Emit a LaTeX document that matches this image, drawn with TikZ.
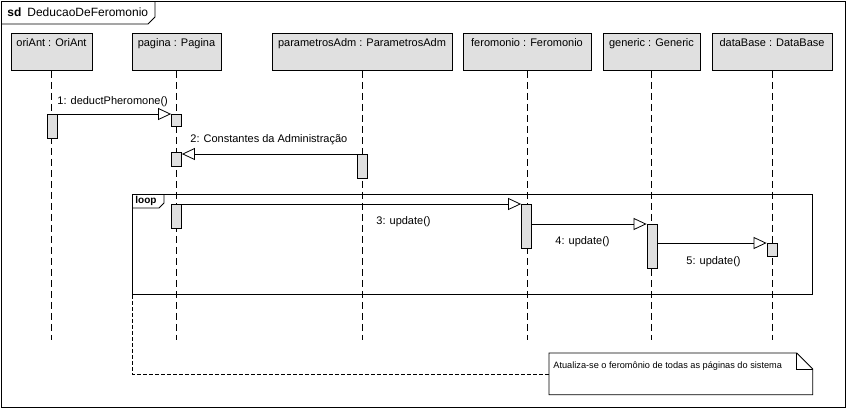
\documentclass[tikz,border=0pt]{standalone}
\usepackage{fontspec}
\setmainfont{Liberation Sans}
\usepackage{tikz}
\usetikzlibrary{arrows.meta}
\usetikzlibrary{positioning}
\usetikzlibrary{calc}
\definecolor{umlgray}{RGB}{224,224,224}
\tikzset{
  umltext/.style = {inner sep=0pt, font=\fontsize{11}{13}\selectfont},
  obj_head/.style = {rectangle, draw=black, fill=umlgray, anchor=north,
    minimum height=37pt, inner sep=0pt},% cabecalho do objeto
  act_box/.style = {rectangle, draw=black, fill=umlgray, anchor=north,
    minimum width=10pt, inner sep=0pt},% ativacao
  life_line/.style = {dash pattern=on 7pt off 4pt},% linha de vida
  msg_arr/.style = {-{Triangle[open,length=13pt,width=12pt]}},% mensagem
  msg_lbl/.style = {umltext, anchor=west},
  note_link/.style = {dash pattern=on 4pt off 2pt}
}

\begin{document}
\begin{tikzpicture}[x=1pt,y=-1pt,line width=0.8pt]
\useasboundingbox (0,0) rectangle (846,408);
\draw (1,1) rectangle (845,407);
% frame sd
\draw (1,24) -- (148,24) -- (155,17) -- (155,1);
\node [umltext, anchor=west, font=\fontsize{12}{14}\selectfont] (title) at (7,12)
  {\textbf{sd}\hspace{6pt}DeducaoDeFeromonio};

% objetos e linhas de vida
\foreach \nm/\x/\w/\txt in {oriAnt/51.5/81/oriAnt : OriAnt,
    pagina/176.5/89/pagina : Pagina,
    paramAdm/362/180/parametrosAdm : ParametrosAdm,
    feromonio/527/128/feromonio : Feromonio,
    generic/651.5/97/generic : Generic,
    dataBase/772/120/dataBase : DataBase} {
  \node [obj_head, minimum width=\w pt,
    label={[umltext, anchor=north, yshift=-5pt]north:\txt}] (\nm) at (\x,33) {};
  \coordinate (\nm-end) at (\x,340);
  \draw [life_line] (\nm.south) -- (\nm-end);
}

% loop
\node [draw, anchor=north west, minimum width=680pt, minimum height=100pt,
  inner sep=0pt] (loop) at (132,194) {};
\draw (132,208) -- (159,208) -- (164,203) -- (164,194);
\node [umltext, anchor=west, font=\fontsize{10}{12}\selectfont\bfseries]
  (loopLbl) at (135,201) {loop};

% ativacoes
\node [act_box, minimum height=24pt] (actO1) at (52,114) {};
\node [act_box, minimum height=12pt] (actP1) at (176.5,114) {};
\node [act_box, minimum height=14pt] (actP2) at (176.5,152) {};
\node [act_box, minimum height=24pt] (actA2) at (362,154) {};
\node [act_box, minimum height=24pt] (actP3) at (176.5,204) {};
\node [act_box, minimum height=44pt] (actF3) at (526.5,204) {};
\node [act_box, minimum height=44pt] (actG4) at (652,224) {};
\node [act_box, minimum height=13pt] (actD5) at (772,243) {};

% mensagens
\draw [msg_arr] (actO1.north east) -- (actP1.north west);
\draw [msg_arr] (actA2.north west) -- (actP2.east |- actA2.north);
\draw [msg_arr] (actP3.north east) -- (actF3.north west);
\draw [msg_arr] (actF3.east |- actG4.north) -- (actG4.north west);
\draw [msg_arr] (actG4.east |- actD5.north) -- (actD5.north west);
\node [msg_lbl] (m1) at (57,102) {1: deductPheromone()};
\node [msg_lbl] (m2) at (190,140) {2: Constantes da Administração};
\node [msg_lbl] (m3) at (376,222) {3: update()};
\node [msg_lbl] (m4) at (555,242) {4: update()};
\node [msg_lbl] (m5) at (686,262) {5: update()};

% nota
\node [anchor=north west, minimum width=263pt, minimum height=41pt, inner sep=0pt,
  label={[inner sep=0pt, anchor=north west, xshift=4pt, yshift=-8pt,
    font=\fontsize{9.2}{11}\selectfont]north west:Atualiza-se o feromônio de todas as páginas do sistema}]
  (note) at (549,353) {};
\draw (note.north west) -- ($(note.north east)+(-16,0)$) -- ($(note.north east)+(0,16)$)
  -- (note.south east) -- (note.south west) -- cycle;
\draw ($(note.north east)+(-16,0)$) |- ($(note.north east)+(0,16)$);
\draw [note_link] (loop.south west) |- (note.west);
\end{tikzpicture}
\end{document}
